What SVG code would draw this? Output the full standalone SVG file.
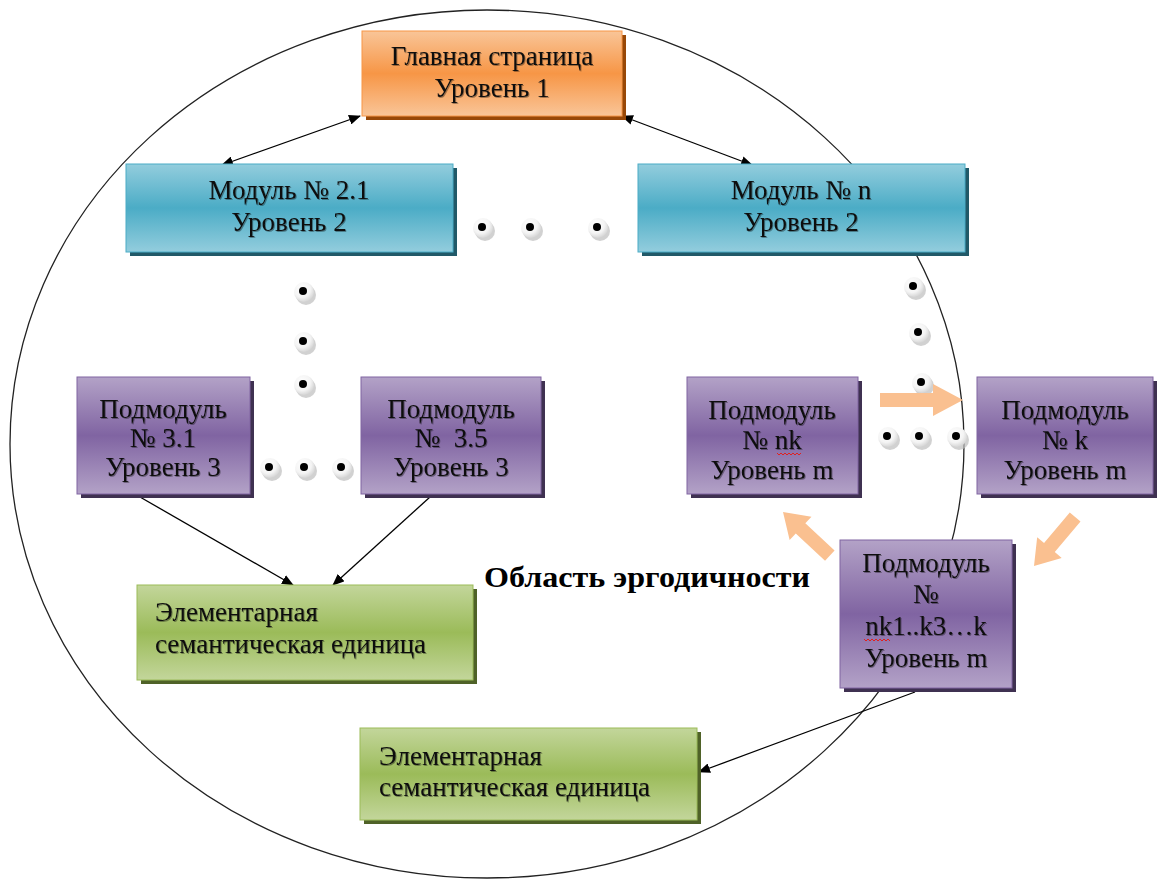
<svg xmlns="http://www.w3.org/2000/svg" width="1157" height="881" viewBox="0 0 1157 881">
<style>
.t{font-family:"Liberation Serif","Times New Roman",serif;font-size:27px;fill:#111;text-anchor:middle;filter:url(#ts)}
.g{font-family:"Liberation Serif","Times New Roman",serif;font-size:27px;fill:#111;filter:url(#ts)}
.b{font-family:"Liberation Serif","Times New Roman",serif;font-size:29px;font-weight:bold;fill:#000}
.conn{stroke:#000;stroke-width:1.3;fill:none}
.oarr{fill:#FAC090}
.wavy{stroke:#E02020;stroke-width:1;fill:none}
</style>
<defs>
<filter id="ts" x="-5%" y="-20%" width="110%" height="140%"><feDropShadow dx="1" dy="1" stdDeviation="0.6" flood-color="#000" flood-opacity="0.35"/></filter>
<linearGradient id="gOr" x1="0" y1="0" x2="0" y2="1"><stop offset="0" stop-color="#F9C598"/><stop offset="0.5" stop-color="#F79646"/><stop offset="1" stop-color="#F9C598"/></linearGradient>
<linearGradient id="gBl" x1="0" y1="0" x2="0" y2="1"><stop offset="0" stop-color="#93CDDD"/><stop offset="0.5" stop-color="#4BACC6"/><stop offset="1" stop-color="#93CDDD"/></linearGradient>
<linearGradient id="gPu" x1="0" y1="0" x2="0" y2="1"><stop offset="0" stop-color="#B3A2C7"/><stop offset="0.5" stop-color="#8064A2"/><stop offset="1" stop-color="#B3A2C7"/></linearGradient>
<linearGradient id="gGr" x1="0" y1="0" x2="0" y2="1"><stop offset="0" stop-color="#C3D69B"/><stop offset="0.5" stop-color="#9BBB59"/><stop offset="1" stop-color="#C3D69B"/></linearGradient>
<radialGradient id="gDot" cx="0.4" cy="0.35" r="0.7"><stop offset="0" stop-color="#FFFFFF"/><stop offset="0.6" stop-color="#F4F4F4"/><stop offset="1" stop-color="#D0D0D0"/></radialGradient>
<marker id="ah" viewBox="0 0 12 10" refX="11" refY="5" markerWidth="12" markerHeight="10" markerUnits="userSpaceOnUse" orient="auto-start-reverse"><path d="M0,0 L12,5 L0,10 z" fill="#000"/></marker>
<g id="dot">
<ellipse cx="2" cy="3" rx="10" ry="10" fill="#BDBDBD" opacity="0.7"/>
<circle cx="0" cy="0" r="10" fill="url(#gDot)"/>
<circle cx="-1" cy="-1" r="4" fill="#000"/>
</g>
</defs>
<rect width="1157" height="881" fill="#fff"/>
<ellipse id="region" cx="487" cy="444" rx="477" ry="434" fill="none" stroke="#222" stroke-width="1.3"/>

<g id="connectors">
<line class="conn" x1="222" y1="165" x2="360" y2="116" marker-start="url(#ah)" marker-end="url(#ah)"/>
<line class="conn" x1="622" y1="116" x2="752" y2="165" marker-start="url(#ah)" marker-end="url(#ah)"/>
<line class="conn" x1="140" y1="497" x2="293" y2="585" marker-end="url(#ah)"/>
<line class="conn" x1="430" y1="497" x2="333" y2="585" marker-end="url(#ah)"/>
<line class="conn" x1="915" y1="692" x2="699" y2="772" marker-end="url(#ah)"/>
</g>

<g id="dots">
<use href="#dot" x="483" y="228"/><use href="#dot" x="531" y="228"/><use href="#dot" x="598" y="228"/>
<use href="#dot" x="304" y="292"/><use href="#dot" x="304" y="342"/><use href="#dot" x="304" y="385"/>
<use href="#dot" x="270" y="468"/><use href="#dot" x="305" y="468"/><use href="#dot" x="342" y="468"/>
<use href="#dot" x="914" y="287"/><use href="#dot" x="919" y="333"/><use href="#dot" x="922" y="383"/>
<use href="#dot" x="888" y="437"/><use href="#dot" x="920" y="437"/><use href="#dot" x="957" y="437"/>
</g>

<g id="orange-arrows">
<path class="oarr" d="M880,393 L933,393 L933,384 L963,400 L933,416 L933,407 L880,407 z"/>
<path class="oarr" transform="translate(783,512) rotate(43)" d="M0,0 L24,-16 L24,-7 L64,-7 L64,7 L24,7 L24,16 z"/>
<path class="oarr" transform="translate(1034,566) rotate(-50)" d="M0,0 L24,-16 L24,-7 L64,-7 L64,7 L24,7 L24,16 z"/>
</g>

<g id="main">
<rect x="366" y="35" width="260" height="85" fill="#984807"/>
<rect x="362" y="31" width="260" height="85" fill="url(#gOr)" stroke="#F79646"/>
<text class="t" x="492" y="65">Главная страница</text>
<text class="t" x="492" y="97">Уровень 1</text>
</g>

<g id="mod21">
<rect x="130" y="168" width="327" height="88" fill="#215968"/>
<rect x="126" y="164" width="327" height="88" fill="url(#gBl)" stroke="#4BACC6"/>
<text class="t" x="289" y="199">Модуль № 2.1</text>
<text class="t" x="289" y="231">Уровень 2</text>
</g>

<g id="modn">
<rect x="642" y="168" width="327" height="88" fill="#215968"/>
<rect x="638" y="164" width="327" height="88" fill="url(#gBl)" stroke="#4BACC6"/>
<text class="t" x="801" y="199">Модуль № n</text>
<text class="t" x="801" y="231">Уровень 2</text>
</g>

<g id="sub31">
<rect x="81" y="381" width="173" height="117" fill="#3F3151"/>
<rect x="77" y="377" width="173" height="117" fill="url(#gPu)" stroke="#8064A2"/>
<text class="t" x="163" y="418">Подмодуль</text>
<text class="t" x="163" y="447">№ 3.1</text>
<text class="t" x="163" y="476">Уровень 3</text>
</g>

<g id="sub35">
<rect x="365" y="381" width="180" height="117" fill="#3F3151"/>
<rect x="361" y="377" width="180" height="117" fill="url(#gPu)" stroke="#8064A2"/>
<text class="t" x="451" y="418">Подмодуль</text>
<text class="t" x="451" y="447" xml:space="preserve">№  3.5</text>
<text class="t" x="451" y="476">Уровень 3</text>
</g>

<g id="subnk">
<rect x="691" y="381" width="171" height="117" fill="#3F3151"/>
<rect x="687" y="377" width="171" height="117" fill="url(#gPu)" stroke="#8064A2"/>
<text class="t" x="772" y="419">Подмодуль</text>
<text class="t" x="772" y="449">№ nk</text>
<text class="t" x="772" y="479">Уровень m</text>
<path class="wavy" d="M777,453 l2,2 l2,-2 l2,2 l2,-2 l2,2 l2,-2 l2,2 l2,-2 l2,2 l2,-2 l2,2 l2,-2"/>
</g>

<g id="subk">
<rect x="981" y="381" width="176" height="117" fill="#3F3151"/>
<rect x="977" y="377" width="176" height="117" fill="url(#gPu)" stroke="#8064A2"/>
<text class="t" x="1065" y="419">Подмодуль</text>
<text class="t" x="1065" y="449">№ k</text>
<text class="t" x="1065" y="479">Уровень m</text>
</g>

<g id="subnk1">
<rect x="844" y="544" width="172" height="148" fill="#3F3151"/>
<rect x="840" y="540" width="172" height="148" fill="url(#gPu)" stroke="#8064A2"/>
<text class="t" x="926" y="572">Подмодуль</text>
<text class="t" x="926" y="603">№</text>
<text class="t" x="926" y="635">nk1..k3…k</text>
<text class="t" x="926" y="667">Уровень m</text>
<path class="wavy" d="M864,639 l2,2 l2,-2 l2,2 l2,-2 l2,2 l2,-2 l2,2 l2,-2 l2,2 l2,-2 l2,2 l2,-2 l2,2"/>
</g>

<g id="elem1">
<rect x="141" y="589" width="336" height="95" fill="#4F6228"/>
<rect x="137" y="585" width="336" height="95" fill="url(#gGr)" stroke="#9BBB59"/>
<text class="g" x="155" y="621">Элементарная</text>
<text class="g" x="155" y="653">семантическая единица</text>
</g>

<g id="elem2">
<rect x="364" y="732" width="337" height="92" fill="#4F6228"/>
<rect x="360" y="728" width="337" height="92" fill="url(#gGr)" stroke="#9BBB59"/>
<text class="g" x="379" y="765">Элементарная</text>
<text class="g" x="379" y="796">семантическая единица</text>
</g>

<text id="label" class="b" x="484" y="587" textLength="326" lengthAdjust="spacingAndGlyphs">Область эргодичности</text>
</svg>
